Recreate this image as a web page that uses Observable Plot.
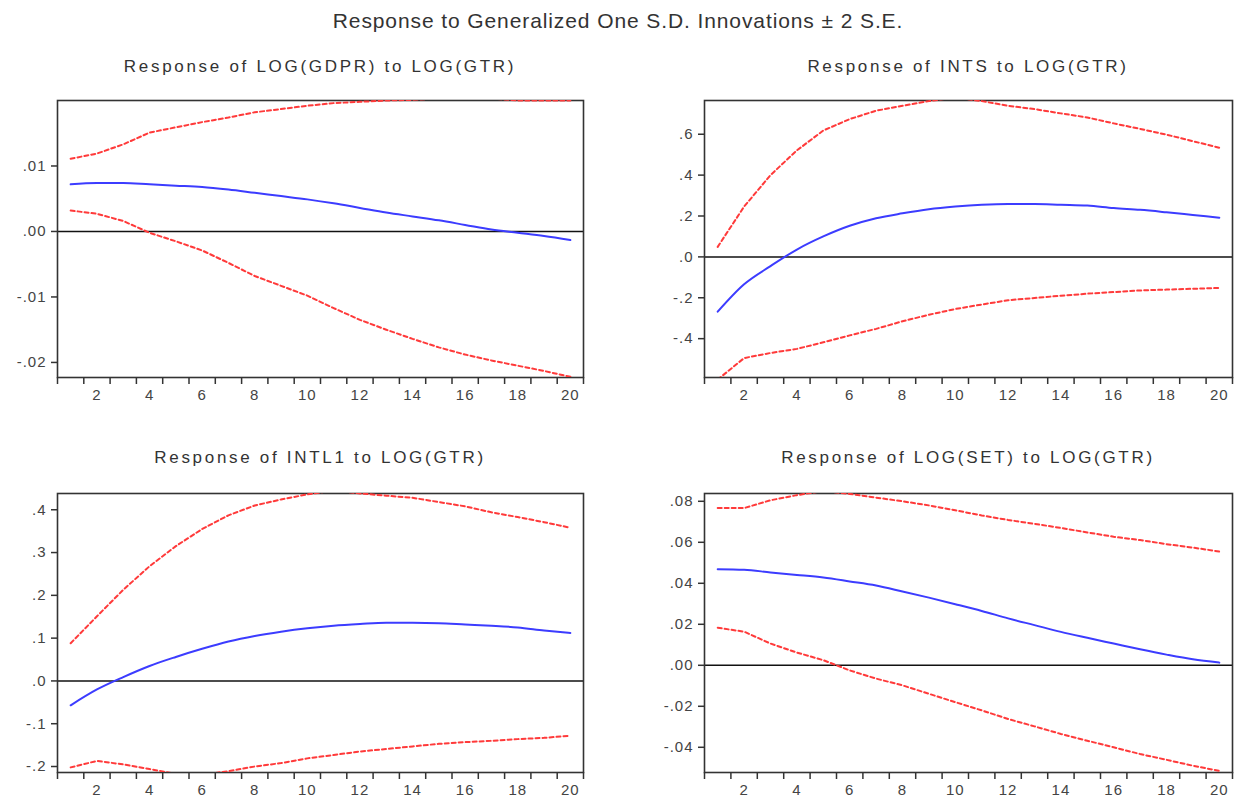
<!DOCTYPE html>
<html>
<head>
<meta charset="utf-8">
<script src="https://cdn.jsdelivr.net/npm/d3@7"></script>
<script src="https://cdn.jsdelivr.net/npm/@observablehq/plot@0.6"></script>
<style>
  html, body { margin: 0; padding: 0; background: #fff; }
  #root { position: relative; width: 1236px; height: 803px; font-family: "Liberation Sans", Arial, sans-serif; color: #333; }
  .title { position: absolute; white-space: nowrap; transform: translateX(-50%); }
  .main { font-size: 21px; letter-spacing: 0.9px; top: 9px; left: 618px; }
  .sub { font-size: 17px; letter-spacing: 2.7px; }
  .panel { position: absolute; }
  .panel svg text { font-size: 15px !important; letter-spacing: 1px; font-family: "Liberation Sans", Arial, sans-serif !important; }
</style>
</head>
<body>
<div id="root"></div>
<script>
// ---- data ----
const periods = [1,2,3,4,5,6,7,8,9,10,11,12,13,14,15,16,17,18,19,20];
const xLabelPeriods = [2,4,6,8,10,12,14,16,18,20];
const xTickLabels = ["2","4","6","8","10","12","14","16","18","20"];
const xTickMarks = [0.5,1.5,2.5,3.5,4.5,5.5,6.5,7.5,8.5,9.5,10.5,11.5,12.5,13.5,14.5,15.5,16.5,17.5,18.5,19.5,20.5];

const mainTitle = "Response to Generalized One S.D. Innovations \u00b1 2 S.E.";
const panelTitles = [
  "Response of LOG(GDPR) to LOG(GTR)",
  "Response of INTS to LOG(GTR)",
  "Response of INTL1 to LOG(GTR)",
  "Response of LOG(SET) to LOG(GTR)"
];

// Panel 1: LOG(GDPR)
const gdprResp  = [0.0072,0.0074,0.0074,0.0072,0.0070,0.0068,0.0064,0.0059,0.0054,0.0049,0.0043,0.0036,0.0029,0.0023,0.0017,0.0010,0.0003,-0.0002,-0.0007,-0.0013];
const gdprUpper = [0.0111,0.0119,0.0133,0.0151,0.0159,0.0167,0.0174,0.0182,0.0187,0.0192,0.0196,0.0198,0.0200,0.0201,0.0203,0.0204,0.0203,0.0200,0.0200,0.0200];
const gdprLower = [0.0032,0.0027,0.0016,-0.0002,-0.0015,-0.0029,-0.0048,-0.0068,-0.0083,-0.0098,-0.0117,-0.0135,-0.0150,-0.0164,-0.0177,-0.0188,-0.0197,-0.0205,-0.0213,-0.0222];
const gdprTicks = [-0.02,-0.01,0,0.01];
const gdprTickLabels = ["-.02","-.01",".00",".01"];
const gdprDomain = [-0.0223, 0.0200];

// Panel 2: INTS
const intsResp  = [-0.268,-0.134,-0.045,0.036,0.100,0.152,0.189,0.213,0.233,0.246,0.255,0.259,0.259,0.255,0.251,0.239,0.230,0.218,0.205,0.192];
const intsUpper = [0.049,0.246,0.400,0.521,0.618,0.674,0.715,0.739,0.762,0.780,0.762,0.739,0.723,0.702,0.682,0.653,0.626,0.598,0.566,0.534];
const intsLower = [-0.600,-0.495,-0.470,-0.450,-0.418,-0.384,-0.352,-0.315,-0.283,-0.255,-0.233,-0.212,-0.201,-0.190,-0.180,-0.172,-0.164,-0.160,-0.156,-0.152];
const intsTicks = [-0.4,-0.2,0,0.2,0.4,0.6];
const intsTickLabels = ["-.4","-.2",".0",".2",".4",".6"];
const intsDomain = [-0.59, 0.765];

// Panel 3: INTL1
const intlResp  = [-0.057,-0.020,0.009,0.035,0.056,0.075,0.092,0.105,0.115,0.123,0.129,0.133,0.136,0.136,0.135,0.132,0.129,0.125,0.118,0.112];
const intlUpper = [0.088,0.151,0.213,0.268,0.315,0.355,0.387,0.410,0.424,0.436,0.445,0.438,0.433,0.428,0.418,0.408,0.394,0.383,0.371,0.358];
const intlLower = [-0.202,-0.187,-0.195,-0.206,-0.217,-0.219,-0.211,-0.200,-0.192,-0.181,-0.173,-0.165,-0.159,-0.153,-0.147,-0.143,-0.140,-0.136,-0.133,-0.128];
const intlTicks = [-0.2,-0.1,0,0.1,0.2,0.3,0.4];
const intlTickLabels = ["-.2","-.1",".0",".1",".2",".3",".4"];
const intlDomain = [-0.214, 0.438];

// Panel 4: LOG(SET)
const setResp  = [0.0469,0.0466,0.0453,0.0441,0.0428,0.0409,0.0389,0.0360,0.0330,0.0298,0.0265,0.0229,0.0196,0.0163,0.0134,0.0106,0.0078,0.0052,0.0029,0.0013];
const setUpper = [0.0767,0.0767,0.0805,0.0830,0.0850,0.0836,0.0818,0.0800,0.0780,0.0756,0.0731,0.0709,0.0690,0.0670,0.0648,0.0627,0.0611,0.0591,0.0574,0.0555];
const setLower = [0.0183,0.0164,0.0106,0.0062,0.0025,-0.0025,-0.0065,-0.0098,-0.0139,-0.0180,-0.0220,-0.0262,-0.0298,-0.0335,-0.0368,-0.0400,-0.0433,-0.0461,-0.0490,-0.0515];
const setTicks = [-0.04,-0.02,0,0.02,0.04,0.06,0.08];
const setTickLabels = ["-.04","-.02",".00",".02",".04",".06",".08"];
const setDomain = [-0.0523, 0.0838];

// ---- layout ----
const root = document.getElementById("root");
const mt = document.createElement("div");
mt.className = "title main"; mt.textContent = mainTitle; root.appendChild(mt);

const panels = [
  {title: panelTitles[0], resp: gdprResp, upper: gdprUpper, lower: gdprLower, ticks: gdprTicks, labels: gdprTickLabels, domain: gdprDomain,
   left: 0, top: 95, mLeft: 57, frameW: 526, frameH: 277, titleX: 320, titleY: 57},
  {title: panelTitles[1], resp: intsResp, upper: intsUpper, lower: intsLower, ticks: intsTicks, labels: intsTickLabels, domain: intsDomain,
   left: 620, top: 95, mLeft: 84, frameW: 528, frameH: 277, titleX: 968, titleY: 57},
  {title: panelTitles[2], resp: intlResp, upper: intlUpper, lower: intlLower, ticks: intlTicks, labels: intlTickLabels, domain: intlDomain,
   left: 0, top: 488, mLeft: 57, frameW: 526, frameH: 279, titleX: 320, titleY: 448},
  {title: panelTitles[3], resp: setResp, upper: setUpper, lower: setLower, ticks: setTicks, labels: setTickLabels, domain: setDomain,
   left: 620, top: 488, mLeft: 84, frameW: 528, frameH: 279, titleX: 968, titleY: 448}
];

const red = "#ff3a3a", blue = "#3c3cff", axisInk = "#333";

for (const p of panels) {
  const t = document.createElement("div");
  t.className = "title sub";
  t.style.left = p.titleX + "px";
  t.style.top = p.titleY + "px";
  t.textContent = p.title;
  root.appendChild(t);

  const rows = periods.map((x, i) => ({x, resp: p.resp[i], upper: p.upper[i], lower: p.lower[i]}));
  const mTop = 5, mBottom = 31, mRight = 4;
  const chart = Plot.plot({
    width: p.mLeft + p.frameW + mRight,
    height: mTop + p.frameH + mBottom,
    marginLeft: p.mLeft, marginRight: mRight, marginTop: mTop, marginBottom: mBottom,
    style: {fontFamily: "'Liberation Sans', Arial, sans-serif", fontSize: "15px", color: "#444", background: "white", overflow: "visible"},
    x: {domain: [0.5, 20.5], label: null},
    y: {domain: p.domain, label: null},
    marks: [
      Plot.ruleY([0], {stroke: "#111", strokeWidth: 1.5}),
      Plot.frame({stroke: axisInk, strokeWidth: 1.6}),
      Plot.axisX({ticks: xTickMarks, tickFormat: () => "", tickSize: 7, stroke: axisInk, strokeWidth: 1.5, label: null}),
      Plot.axisX({ticks: xLabelPeriods, tickFormat: d => xTickLabels[xLabelPeriods.indexOf(d)], tickSize: 0, tickPadding: 12, fill: "#444", label: null}),
      Plot.axisY({ticks: p.ticks, tickFormat: d => p.labels[p.ticks.indexOf(d)], tickSize: 6, tickPadding: 5, stroke: axisInk, strokeWidth: 1.5, fill: "#444", label: null}),
      Plot.line(rows, {x: "x", y: "upper", stroke: red, strokeWidth: 2, strokeDasharray: "4,3", clip: true}),
      Plot.line(rows, {x: "x", y: "lower", stroke: red, strokeWidth: 2, strokeDasharray: "4,3", clip: true}),
      Plot.line(rows, {x: "x", y: "resp", stroke: blue, strokeWidth: 2, curve: "monotone-x", clip: true})
    ]
  });
  const wrap = document.createElement("div");
  wrap.className = "panel";
  wrap.style.left = p.left + "px";
  wrap.style.top = p.top + "px";
  wrap.appendChild(chart);
  root.appendChild(wrap);
}
</script>
</body>
</html>
